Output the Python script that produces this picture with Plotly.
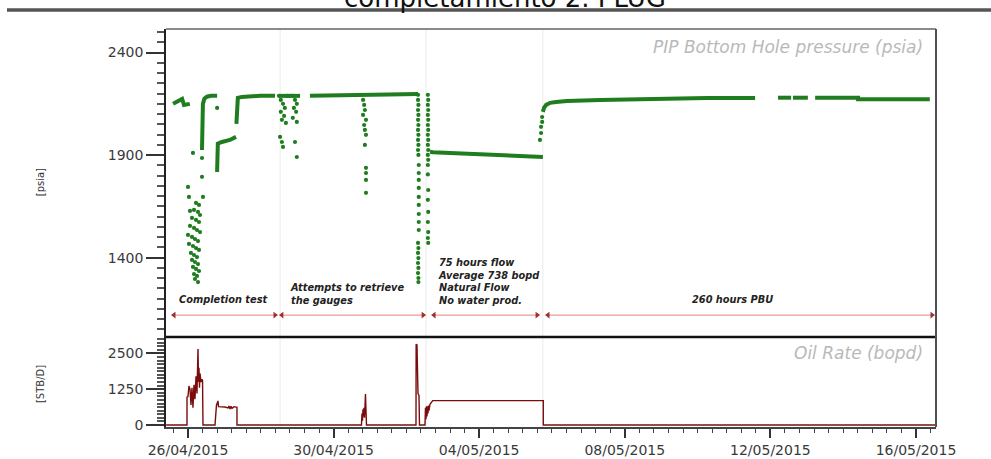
import plotly.graph_objects as go
import pandas as pd

START = pd.Timestamp("2015-04-26 00:00:00")

def to_dt(days):
    return [None if d is None else (START + pd.Timedelta(days=d)).strftime("%Y-%m-%d %H:%M:%S") for d in days]

# ---------------- Pressure (psia) : continuous stretches, days since 26/04/2015 ----------------
P_LINE_DAYS = [-0.41, -0.27, -0.16, -0.11, 0.05, None,
               0.385, 0.385, 0.40, 0.41, 0.45, 0.52, 0.63, 0.80, None,
               0.80, 0.80, 0.82, 0.93, 1.15, 1.32, None,
               1.33, 1.35, 1.37, 1.48, 1.70, 1.98, 2.39, None,
               2.50, 3.08, None,
               3.35, 4.00, 4.86, 5.50, 6.32, None,
               6.65, 6.73, 7.20, 8.30, 9.00, 9.75, None,
               9.75, 9.78, 9.84, 9.95, 10.11, 10.41, 11.32, 12.69, 14.26, 15.58, None,
               16.21, 16.57, None,
               16.62, 17.03, None,
               17.23, 18.41, 18.41, 20.38]
P_LINE_PSI = [2150, 2164, 2174, 2145, 2150, None,
              1925, 2023, 2100, 2150, 2175, 2185, 2189, 2189, None,
              1818, 1930, 1956, 1964, 1974, 1989, None,
              2052, 2110, 2179, 2184, 2187, 2189, 2189, None,
              2189, 2189, None,
              2190, 2193, 2195, 2196, 2198, None,
              1916, 1914, 1910, 1900, 1894, 1891, None,
              2111, 2130, 2145, 2155, 2159, 2164, 2169, 2174, 2179, 2179, None,
              2180, 2180, None,
              2180, 2180, None,
              2180, 2180, 2173, 2173]

# ---------------- Pressure (psia) : scattered gauge readings ----------------
P_PTS_DAYS = [0.0, 0.027, 0.055, 0.137, 0.385, 0.385, 0.412, 0.80,
              0.220, 0.302, 0.165, 0.275, 0.330, 0.110, 0.220, 0.302, 0.055, 0.165, 0.247, 0.330,
              0.0, 0.110, 0.192, 0.275, 0.027, 0.137, 0.220, 0.302, 0.082, 0.165, 0.247,
              0.110, 0.192, 0.275, 0.137, 0.220, 0.302, 0.165, 0.247, 0.192, 0.275,
              2.50, 2.55, 2.61, 2.66, 2.55, 2.64, 2.58, 2.69, 2.53, 2.58, 2.61,
              2.88, 2.94, 2.99, 2.91, 2.97, 2.88, 2.99, 2.94, 2.99, 2.72, 2.80,
              4.81, 4.84, 4.86, 4.81, 4.89, 4.84, 4.86, 4.89, 4.86, 4.89, 4.89, 4.89, 4.89,
              6.32, 6.32, 6.33, 6.32, 6.33, 6.32, 6.33, 6.32, 6.33, 6.32, 6.33, 6.32, 6.33,
              6.34, 6.34, 6.34, 6.34, 6.34, 6.34, 6.34, 6.34, 6.34,
              6.32, 6.33, 6.32, 6.33, 6.32, 6.33, 6.32, 6.33, 6.33,
              6.59, 6.60, 6.59, 6.60, 6.59, 6.60, 6.59, 6.60, 6.59, 6.60, 6.59, 6.60, 6.59, 6.60, 6.59, 6.60, 6.59, 6.60,
              9.67, 9.70, 9.70, 9.73, 9.73]
P_PTS_PSI = [1745, 1696, 1628, 1911, 1886, 1794, 1696, 2130,
             1667, 1657, 1633, 1623, 1608, 1594, 1584, 1574, 1555, 1545, 1535, 1525,
             1511, 1501, 1491, 1481, 1467, 1457, 1447, 1438, 1423, 1413, 1403,
             1389, 1379, 1369, 1355, 1345, 1335, 1320, 1311, 1296, 1281,
             2189, 2169, 2150, 2130, 2111, 2091, 2072, 2057, 1989, 1964, 1940,
             2189, 2169, 2150, 2130, 2111, 2082, 2062, 1964, 1891, 2189, 2189,
             2169, 2145, 2120, 2096, 2072, 2047, 2023, 1999, 1950, 1838, 1813, 1779, 1716,
             2194, 2169, 2145, 2120, 2096, 2072, 2047, 2023, 1999, 1974, 1950, 1925, 1901,
             1852, 1813, 1779, 1740, 1696, 1657, 1613, 1574, 1535,
             1472, 1447, 1423, 1398, 1374, 1350, 1325, 1301, 1281,
             2194, 2169, 2145, 2120, 2096, 2072, 2047, 2023, 1999, 1974, 1950, 1925, 1901, 1877, 1852,
             1730, 1682, 1623,
             1974, 2008, 2038, 2062, 2086]
P_PTS_DAYS_TAIL = [6.59, 6.60, 6.59, 6.60, 6.59]
P_PTS_PSI_TAIL = [1574, 1525, 1496, 1472, 1806]

# ---------------- Oil rate (bopd) ----------------
RATE_DAYS = [-0.6, -0.027, -0.027, 0.0, 0.027, 0.055, 0.082, 0.11, 0.137, 0.165, 0.192, 0.22, 0.247, 0.26,
             0.275, 0.29, 0.302, 0.316, 0.33, 0.357, 0.385, 0.40, 0.412,
             0.742, 0.755, 0.783, 0.825, 0.838, 1.016, 1.099, 1.126, 1.154, 1.181, 1.209, 1.264, 1.319, 1.346, 1.346,
             4.766, 4.780, 4.794, 4.808, 4.821, 4.835, 4.849, 4.863, 4.876, 4.890, 4.904,
             6.264, 6.268, 6.291, 6.305, 6.319, 6.346, 6.360,
             6.511, 6.525, 6.538, 6.552, 6.566, 6.580, 6.593, 6.607, 6.621, 6.635, 6.648, 6.723, 9.761, 9.761, 20.6]
RATE_BOPD = [0, 0, 966, 1000, 1360, 1250, 700, 1300, 600, 1400, 900, 1700, 1100, 1900,
             2650, 1500, 2000, 1300, 1800, 1500, 1600, 1550, 0,
             0, 200, 700, 840, 640, 630, 600, 660, 560, 650, 580, 640, 620, 620, 0,
             0, 400, 150, 550, 300, 600, 250, 650, 1080, 550, 0,
             0, 2820, 2800, 1800, 1100, 1030, 0,
             0, 600, 200, 650, 300, 650, 400, 680, 500, 700, 720, 850, 850, 0, 0]

# ---------------- Test phases ----------------
PHASE_START = [-0.385, 2.58, 6.76, 9.89]
PHASE_END = [2.39, 6.46, 9.59, 20.44]
PHASE_ARROW_PSI = 1120
PHASE_BOUNDARIES = [2.53, 6.54, 9.75]
PHASE_LABELS = ["Completion test", "Attempts to retrieve<br>the gauges",
                "75 hours flow<br>Average 738 bopd<br>Natural Flow<br>No water prod.", "260 hours PBU"]
PHASE_LABEL_DAYS = [0.96, 2.75, 6.81, 14.95]
PHASE_LABEL_PSI = [1194, 1223, 1286, 1194]
PHASE_LABEL_ANCHOR = ["center", "left", "left", "center"]

X_RANGE_DAYS = [-0.604, 20.55]
GREEN = "#1f7d1f"
FONT = "DejaVu Sans"

fig = go.Figure()

fig.add_trace(go.Scatter(x=to_dt(P_LINE_DAYS), y=P_LINE_PSI, mode="lines",
                         line=dict(color=GREEN, width=4), connectgaps=False,
                         xaxis="x2", yaxis="y", showlegend=False, hoverinfo="skip"))
fig.add_trace(go.Scatter(x=to_dt(P_PTS_DAYS + P_PTS_DAYS_TAIL), y=P_PTS_PSI + P_PTS_PSI_TAIL, mode="markers",
                         marker=dict(color=GREEN, size=4.2, line=dict(width=0)),
                         xaxis="x2", yaxis="y", showlegend=False, hoverinfo="skip"))

for s, e in zip(PHASE_START, PHASE_END):
    fig.add_trace(go.Scatter(x=to_dt([s, e]), y=[PHASE_ARROW_PSI, PHASE_ARROW_PSI], mode="lines+markers",
                             line=dict(color="#e58080", width=1),
                             marker=dict(symbol=["triangle-left", "triangle-right"], size=6, color="#a03030"),
                             xaxis="x2", yaxis="y", showlegend=False, hoverinfo="skip"))

fig.add_trace(go.Scatter(x=to_dt(RATE_DAYS), y=RATE_BOPD, mode="lines",
                         line=dict(color="#7a0c0c", width=1.4),
                         xaxis="x", yaxis="y2", showlegend=False, hoverinfo="skip"))

tickfont = dict(family=FONT, size=14, color="#3a3a3a")
DOM_SPLIT = 0.226

fig.update_layout(
    width=991, height=459,
    margin=dict(l=166, r=55, t=29, b=32, autoexpand=False),
    paper_bgcolor="white", plot_bgcolor="white",
    xaxis=dict(type="date", range=to_dt(X_RANGE_DAYS), anchor="y2", domain=[0, 1], automargin=False,
               tickformat="%d/%m/%Y", tick0=to_dt([0])[0], dtick=4 * 86400000,
               ticks="outside", ticklen=9, tickwidth=1.5, tickcolor="#333",
               showline=True, linecolor="#444", linewidth=2, showgrid=False, zeroline=False,
               minor=dict(tick0=to_dt([0])[0], dtick=int(0.4 * 86400000), ticks="outside", ticklen=4,
                          tickwidth=1.2, tickcolor="#444", showgrid=False),
               tickfont=tickfont),
    xaxis2=dict(type="date", matches="x", anchor="y", showticklabels=False, ticks="", automargin=False,
                showline=False, showgrid=False, zeroline=False),
    yaxis=dict(domain=[DOM_SPLIT, 1], range=[1013, 2515], tickmode="linear", tick0=1400, dtick=500,
               automargin=False,
               ticks="outside", ticklen=18, tickwidth=1.5, tickcolor="#333",
               showline=True, linecolor="#222", linewidth=1.5, showgrid=False, zeroline=False,
               minor=dict(tick0=1400, dtick=50, ticks="outside", ticklen=7, tickcolor="#555", showgrid=False),
               tickfont=tickfont),
    yaxis2=dict(domain=[0, DOM_SPLIT], range=[-70, 3070], tickmode="linear", tick0=0, dtick=1250,
                automargin=False,
                ticks="outside", ticklen=18, tickwidth=1.5, tickcolor="#333",
                showline=True, linecolor="#222", linewidth=1.5, showgrid=False, zeroline=False,
                minor=dict(tick0=0, dtick=125, ticks="outside", ticklen=7, tickcolor="#555", showgrid=False),
                tickfont=tickfont),
)

shapes = []
for b in PHASE_BOUNDARIES:
    shapes.append(dict(type="line", xref="x", yref="paper", x0=to_dt([b])[0], x1=to_dt([b])[0], y0=0, y1=1,
                       line=dict(color="#ebebeb", width=1), layer="below"))
shapes += [
    dict(type="line", xref="paper", yref="paper", x0=0, x1=1, y0=1, y1=1, line=dict(color="#8a8a8a", width=2)),
    dict(type="line", xref="paper", yref="paper", x0=0, x1=1, y0=DOM_SPLIT, y1=DOM_SPLIT,
         line=dict(color="#111", width=2.5)),
    dict(type="line", xref="paper", yref="paper", x0=1, x1=1, y0=0, y1=1, line=dict(color="#505050", width=2)),
    dict(type="line", xref="paper", yref="paper", x0=-0.2065, x1=1.0714, y0=1.0477, y1=1.0477,
         line=dict(color="#555", width=3.5)),
]
fig.update_layout(shapes=shapes)

ann = [
    dict(text="completamiento 2. PLUG", xref="paper", yref="paper", x=0.44, y=1.078, showarrow=False,
         xanchor="center", yanchor="middle", font=dict(family=FONT, size=26, color="#111")),
    dict(text="PIP Bottom Hole pressure (psia)", xref="paper", yref="paper", x=0.986, y=0.955,
         showarrow=False, xanchor="right", yanchor="middle",
         font=dict(family=FONT, size=17, color="#b9b9b9", style="italic")),
    dict(text="Oil Rate (bopd)", xref="paper", yref="paper", x=0.986, y=0.186,
         showarrow=False, xanchor="right", yanchor="middle",
         font=dict(family=FONT, size=17, color="#b9b9b9", style="italic")),
    dict(text="[psia]", xref="paper", yref="paper", x=-0.1636, y=0.615, showarrow=False, textangle=-90,
         xanchor="center", yanchor="middle", font=dict(family=FONT, size=10, color="#333")),
    dict(text="[STB/D]", xref="paper", yref="paper", x=-0.1636, y=0.108, showarrow=False, textangle=-90,
         xanchor="center", yanchor="middle", font=dict(family=FONT, size=10, color="#333")),
]
for lab, d, p, anc in zip(PHASE_LABELS, PHASE_LABEL_DAYS, PHASE_LABEL_PSI, PHASE_LABEL_ANCHOR):
    ann.append(dict(text=lab, xref="x2", yref="y", x=to_dt([d])[0], y=p, showarrow=False,
                    xanchor=anc, yanchor="middle", align="left",
                    font=dict(family=FONT, size=9.8, color="#222", style="italic", weight="bold")))
fig.update_layout(annotations=ann)

fig.write_html("out.html", config={"displayModeBar": False},
               post_script="document.body.style.margin='0';")
